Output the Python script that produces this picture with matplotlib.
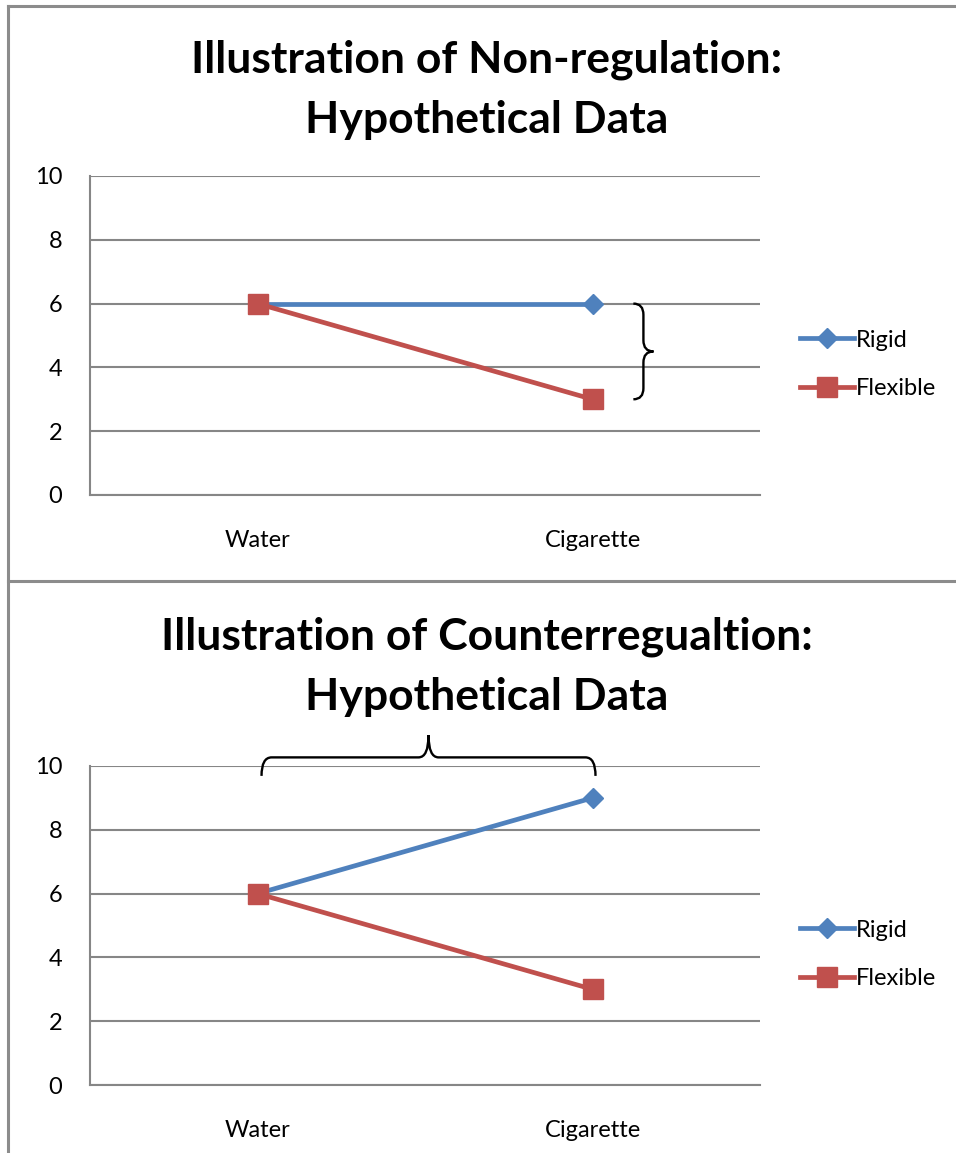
import numpy as np
import matplotlib
matplotlib.use('Agg')
from matplotlib import pyplot as plt
from matplotlib.path import Path
from matplotlib.patches import PathPatch
from matplotlib.lines import Line2D

plt.rcParams['font.family'] = ['Lato', 'DejaVu Sans']

categories = ['Water', 'Cigarette']
titles = ['Illustration of Non-regulation:\nHypothetical Data',
          'Illustration of Counterregualtion:\nHypothetical Data']
rigid = [[6, 6], [6, 9]]
flexible = [[6, 3], [6, 3]]
y_ticks = [0, 2, 4, 6, 8, 10]

BLUE = '#4F81BD'
RED = '#C0504D'
GRID = '#868686'

W, H = 956, 1153


def brace(ax, a, b, base, bar, tip, r, vertical):
    # curly brace from a to b, ends at "base", straight part at "bar", point at "tip"
    m = (a + b) / 2.0
    s = 1 if b > a else -1
    pts = [(base, a),
           (bar, a), (bar, a + s * r),
           (bar, m - s * r),
           (bar, m), (tip, m),
           (bar, m), (bar, m + s * r),
           (bar, b - s * r),
           (bar, b), (base, b)]
    codes = [Path.MOVETO,
             Path.CURVE3, Path.CURVE3,
             Path.LINETO,
             Path.CURVE3, Path.CURVE3,
             Path.CURVE3, Path.CURVE3,
             Path.LINETO,
             Path.CURVE3, Path.CURVE3]
    if not vertical:
        pts = [(p[1], p[0]) for p in pts]
    ax.add_patch(PathPatch(Path(pts, codes), fill=False, lw=1.7,
                           color='black', clip_on=False))


fig = plt.figure(figsize=(W / 100, H / 100), dpi=100)

# plot area in pixels: left, top, right, bottom
areas = [(90, 176, 760, 495), (90, 766, 760, 1085)]
# baseline of the second title line, in pixels from the top
title_base = [133, 710]

for k in range(2):
    l, t, r_, b = areas[k]
    ax = fig.add_axes([l / W, (H - b) / H, (r_ - l) / W, (b - t) / H])
    x = np.arange(len(categories))
    ax.plot(x, rigid[k], color=BLUE, lw=3.4, marker='D', ms=10.5, label='Rigid')
    ax.plot(x, flexible[k], color=RED, lw=3.4, marker='s', ms=14, label='Flexible')
    ax.set_xlim(-0.5, 1.5)
    ax.set_ylim(0, 10)
    ax.set_yticks(y_ticks)
    ax.set_xticks(x)
    ax.set_xticklabels(categories)
    ax.grid(axis='y', color=GRID, lw=1.5)
    ax.set_axisbelow(True)
    for side in ['top', 'right']:
        ax.spines[side].set_visible(False)
    for side in ['left', 'bottom']:
        ax.spines[side].set_color(GRID)
        ax.spines[side].set_linewidth(1.5)
    ax.tick_params(axis='y', length=0, pad=20, labelsize=17)
    ax.tick_params(axis='x', length=0, pad=25, labelsize=17)
    ax.legend(loc='center left', bbox_to_anchor=(1.028, 0.41), frameon=False,
              fontsize=17, handlelength=2.3, handletextpad=0.05,
              labelspacing=1.15)
    fig.text(487 / W, 1 - title_base[k] / H, titles[k], ha='center', va='baseline',
             fontsize=32, fontweight='bold', linespacing=1.62)

    if k == 0:
        brace(ax, rigid[0][1], flexible[0][1], 1.122, 1.152, 1.182, 0.35, True)
    else:
        brace(ax, 0.012, 1.009, 9.69, 10.27, 10.97, 0.03, False)

# chart borders
for xs, ys in [((8, W), (6, 6)), ((8, 8), (6, H)), ((8, W), (581, 581))]:
    fig.add_artist(Line2D([v / W for v in xs], [1 - v / H for v in ys],
                          color='#8c8c8c', lw=2.2))

fig.savefig('out.png', dpi=100)
